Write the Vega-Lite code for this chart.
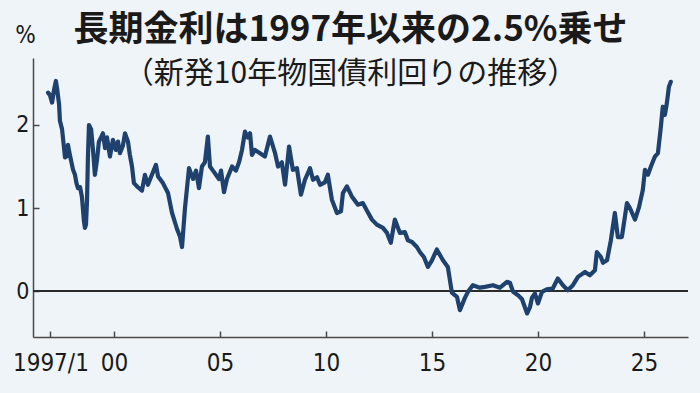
{
  "$schema": "https://vega.github.io/schema/vega-lite/v6.json",
  "width": 655,
  "height": 279,
  "autosize": "none",
  "padding": {"left": 33, "top": 58, "right": 12, "bottom": 56},
  "background": "#eff4f9",
  "title": {
    "text": "長期金利は1997年以来の2.5%乗せ",
    "subtitle": "（新発10年物国債利回りの推移）",
    "anchor": "middle",
    "frame": "group",
    "dx": -10,
    "offset": -66,
    "font": "Noto Sans CJK JP",
    "fontSize": 35,
    "fontWeight": "bold",
    "color": "#1a1a1a",
    "subtitleFont": "Noto Sans CJK JP",
    "subtitleFontSize": 30,
    "subtitleColor": "#1a1a1a",
    "subtitlePadding": 11
  },
  "data": {
    "values": [
      {"year": 1996.89, "yield": 2.39}, {"year": 1996.98, "yield": 2.36}, {"year": 1997.08, "yield": 2.27},
      {"year": 1997.17, "yield": 2.42}, {"year": 1997.26, "yield": 2.53}, {"year": 1997.31, "yield": 2.45},
      {"year": 1997.41, "yield": 2.25}, {"year": 1997.45, "yield": 2.05}, {"year": 1997.55, "yield": 1.95},
      {"year": 1997.69, "yield": 1.61}, {"year": 1997.76, "yield": 1.62}, {"year": 1997.83, "yield": 1.76},
      {"year": 1997.92, "yield": 1.64}, {"year": 1998.07, "yield": 1.46}, {"year": 1998.16, "yield": 1.4},
      {"year": 1998.23, "yield": 1.3}, {"year": 1998.3, "yield": 1.24}, {"year": 1998.4, "yield": 1.25},
      {"year": 1998.49, "yield": 1.13}, {"year": 1998.58, "yield": 0.85}, {"year": 1998.63, "yield": 0.76},
      {"year": 1998.68, "yield": 0.8}, {"year": 1998.73, "yield": 1.1}, {"year": 1998.77, "yield": 1.6},
      {"year": 1998.82, "yield": 2.0}, {"year": 1998.92, "yield": 1.95}, {"year": 1999.01, "yield": 1.7},
      {"year": 1999.1, "yield": 1.4}, {"year": 1999.2, "yield": 1.58}, {"year": 1999.29, "yield": 1.8},
      {"year": 1999.39, "yield": 1.85}, {"year": 1999.48, "yield": 1.9}, {"year": 1999.58, "yield": 1.72},
      {"year": 1999.67, "yield": 1.85}, {"year": 1999.81, "yield": 1.62}, {"year": 1999.95, "yield": 1.82},
      {"year": 2000.09, "yield": 1.7}, {"year": 2000.19, "yield": 1.8}, {"year": 2000.28, "yield": 1.66},
      {"year": 2000.42, "yield": 1.75}, {"year": 2000.52, "yield": 1.9}, {"year": 2000.66, "yield": 1.8},
      {"year": 2000.75, "yield": 1.64}, {"year": 2000.85, "yield": 1.5}, {"year": 2000.94, "yield": 1.3},
      {"year": 2001.13, "yield": 1.25}, {"year": 2001.32, "yield": 1.21}, {"year": 2001.46, "yield": 1.4},
      {"year": 2001.6, "yield": 1.28}, {"year": 2001.79, "yield": 1.4}, {"year": 2001.98, "yield": 1.52},
      {"year": 2002.08, "yield": 1.38}, {"year": 2002.31, "yield": 1.3}, {"year": 2002.55, "yield": 1.18},
      {"year": 2002.74, "yield": 0.94}, {"year": 2002.97, "yield": 0.75}, {"year": 2003.12, "yield": 0.65},
      {"year": 2003.21, "yield": 0.53}, {"year": 2003.35, "yield": 1.0}, {"year": 2003.54, "yield": 1.48},
      {"year": 2003.73, "yield": 1.35}, {"year": 2003.87, "yield": 1.45}, {"year": 2004.01, "yield": 1.24},
      {"year": 2004.15, "yield": 1.5}, {"year": 2004.29, "yield": 1.55}, {"year": 2004.43, "yield": 1.86},
      {"year": 2004.53, "yield": 1.5}, {"year": 2004.67, "yield": 1.45}, {"year": 2004.81, "yield": 1.4},
      {"year": 2004.95, "yield": 1.35}, {"year": 2005.05, "yield": 1.45}, {"year": 2005.19, "yield": 1.19},
      {"year": 2005.33, "yield": 1.35}, {"year": 2005.57, "yield": 1.5}, {"year": 2005.75, "yield": 1.45},
      {"year": 2005.9, "yield": 1.55}, {"year": 2006.04, "yield": 1.7}, {"year": 2006.18, "yield": 1.92},
      {"year": 2006.32, "yield": 1.85}, {"year": 2006.42, "yield": 1.9}, {"year": 2006.51, "yield": 1.64},
      {"year": 2006.65, "yield": 1.7}, {"year": 2006.89, "yield": 1.66}, {"year": 2007.12, "yield": 1.62},
      {"year": 2007.36, "yield": 1.86}, {"year": 2007.6, "yield": 1.66}, {"year": 2007.74, "yield": 1.5},
      {"year": 2007.92, "yield": 1.55}, {"year": 2008.07, "yield": 1.28}, {"year": 2008.26, "yield": 1.74},
      {"year": 2008.44, "yield": 1.46}, {"year": 2008.63, "yield": 1.48}, {"year": 2008.82, "yield": 1.16},
      {"year": 2009.01, "yield": 1.34}, {"year": 2009.25, "yield": 1.48}, {"year": 2009.39, "yield": 1.34},
      {"year": 2009.58, "yield": 1.37}, {"year": 2009.72, "yield": 1.28}, {"year": 2009.95, "yield": 1.31},
      {"year": 2010.09, "yield": 1.4}, {"year": 2010.28, "yield": 1.1}, {"year": 2010.52, "yield": 0.94},
      {"year": 2010.71, "yield": 0.96}, {"year": 2010.8, "yield": 1.18}, {"year": 2010.99, "yield": 1.26},
      {"year": 2011.22, "yield": 1.14}, {"year": 2011.51, "yield": 1.04}, {"year": 2011.74, "yield": 1.06},
      {"year": 2011.93, "yield": 0.97}, {"year": 2012.17, "yield": 0.86}, {"year": 2012.4, "yield": 0.8},
      {"year": 2012.69, "yield": 0.76}, {"year": 2012.88, "yield": 0.7}, {"year": 2013.06, "yield": 0.58},
      {"year": 2013.25, "yield": 0.86}, {"year": 2013.49, "yield": 0.7}, {"year": 2013.72, "yield": 0.71},
      {"year": 2013.87, "yield": 0.61}, {"year": 2014.06, "yield": 0.59}, {"year": 2014.29, "yield": 0.53},
      {"year": 2014.43, "yield": 0.47}, {"year": 2014.62, "yield": 0.41}, {"year": 2014.81, "yield": 0.29},
      {"year": 2015.0, "yield": 0.37}, {"year": 2015.23, "yield": 0.5}, {"year": 2015.52, "yield": 0.37},
      {"year": 2015.75, "yield": 0.29}, {"year": 2015.85, "yield": 0.13}, {"year": 2015.94, "yield": -0.02},
      {"year": 2016.18, "yield": -0.07}, {"year": 2016.32, "yield": -0.23}, {"year": 2016.56, "yield": -0.08},
      {"year": 2016.7, "yield": -0.01}, {"year": 2016.93, "yield": 0.07}, {"year": 2017.26, "yield": 0.04},
      {"year": 2017.5, "yield": 0.05}, {"year": 2017.88, "yield": 0.07}, {"year": 2018.21, "yield": 0.04},
      {"year": 2018.54, "yield": 0.11}, {"year": 2018.68, "yield": 0.1}, {"year": 2018.83, "yield": -0.01},
      {"year": 2019.06, "yield": -0.05}, {"year": 2019.25, "yield": -0.1}, {"year": 2019.49, "yield": -0.27},
      {"year": 2019.63, "yield": -0.19}, {"year": 2019.72, "yield": -0.08}, {"year": 2019.86, "yield": -0.03},
      {"year": 2020.0, "yield": -0.15}, {"year": 2020.19, "yield": -0.01}, {"year": 2020.42, "yield": 0.02},
      {"year": 2020.7, "yield": 0.03}, {"year": 2020.94, "yield": 0.15}, {"year": 2021.18, "yield": 0.07},
      {"year": 2021.41, "yield": 0.01}, {"year": 2021.65, "yield": 0.07}, {"year": 2021.89, "yield": 0.17},
      {"year": 2022.22, "yield": 0.23}, {"year": 2022.45, "yield": 0.19}, {"year": 2022.69, "yield": 0.25},
      {"year": 2022.78, "yield": 0.47}, {"year": 2022.97, "yield": 0.41}, {"year": 2023.07, "yield": 0.34},
      {"year": 2023.26, "yield": 0.37}, {"year": 2023.44, "yield": 0.61}, {"year": 2023.63, "yield": 0.94},
      {"year": 2023.77, "yield": 0.65}, {"year": 2023.96, "yield": 0.65}, {"year": 2024.2, "yield": 1.06},
      {"year": 2024.34, "yield": 1.0}, {"year": 2024.58, "yield": 0.86}, {"year": 2024.77, "yield": 1.01},
      {"year": 2024.95, "yield": 1.22}, {"year": 2025.05, "yield": 1.46}, {"year": 2025.19, "yield": 1.4},
      {"year": 2025.33, "yield": 1.5}, {"year": 2025.52, "yield": 1.62}, {"year": 2025.66, "yield": 1.66},
      {"year": 2025.8, "yield": 1.98}, {"year": 2025.89, "yield": 2.22}, {"year": 2025.99, "yield": 2.12},
      {"year": 2026.08, "yield": 2.26}, {"year": 2026.18, "yield": 2.46}, {"year": 2026.27, "yield": 2.52}
    ]
  },
  "config": {
    "view": {"stroke": null},
    "axis": {
      "grid": false,
      "domainColor": "#4a4a4a",
      "domainWidth": 1.5,
      "tickColor": "#4a4a4a",
      "tickWidth": 1.5,
      "tickSize": -6,
      "labelFont": "DejaVu Sans Condensed, sans-serif",
      "labelColor": "#1a1a1a",
      "titleFont": "DejaVu Sans Condensed, sans-serif",
      "titleColor": "#1a1a1a"
    }
  },
  "layer": [
    {
      "mark": {"type": "rule", "color": "#2b2b2b", "strokeWidth": 2},
      "encoding": {"y": {"datum": 0, "type": "quantitative"}}
    },
    {
      "mark": {"type": "line", "color": "#1e416e", "strokeWidth": 4.2, "strokeJoin": "round", "strokeCap": "round"},
      "encoding": {
        "x": {
          "field": "year",
          "type": "quantitative",
          "scale": {"domain": [1996.18, 2027.08], "nice": false, "zero": false},
          "axis": {
            "title": null,
            "values": [1997, 2000, 2005, 2010, 2015, 2020, 2025],
            "labelExpr": "datum.value == 1997 ? '1997/1' : slice(toString(datum.value), 2)",
            "labelFontSize": 24,
            "labelPadding": 20,
            "labelFlush": false
          }
        },
        "y": {
          "field": "yield",
          "type": "quantitative",
          "scale": {"domain": [-0.554, 2.807], "nice": false, "zero": false},
          "axis": {
            "title": "%",
            "titleAngle": 0,
            "titleAlign": "center",
            "titleBaseline": "middle",
            "titleX": -8,
            "titleY": -23,
            "titleFontSize": 24,
            "titleFontWeight": "normal",
            "values": [0, 1, 2],
            "format": "d",
            "labelFontSize": 23,
            "labelPadding": 10
          }
        }
      }
    }
  ]
}
